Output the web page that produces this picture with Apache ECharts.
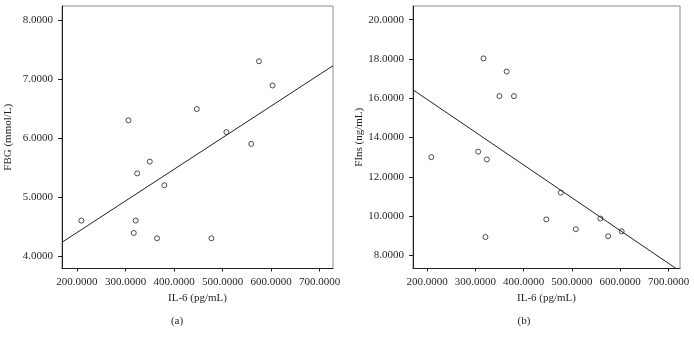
<!DOCTYPE html>
<html>
<head>
<meta charset="utf-8">
<script src="https://cdn.jsdelivr.net/npm/echarts@6/dist/echarts.min.js"></script>
<style>
  html, body { margin: 0; padding: 0; background: #fff; }
  #chart { width: 694px; height: 341px; }
</style>
</head>
<body>
<div id="chart"></div>
<script>
// IL-6 values (same patients in both panels)
const il6 = [209, 306, 317, 321, 324, 350, 365, 380, 447, 477, 508, 559, 575, 603]
// panel (a) FBG
const fbg = [4.60, 6.30, 4.39, 4.60, 5.40, 5.60, 4.30, 5.20, 6.49, 4.30, 6.10, 5.90, 7.30, 6.89]
// panel (b) FIns
const fins = [13.0, 13.28, 18.03, 8.93, 12.88, 16.11, 17.36, 16.11, 9.83, 11.19, 9.33, 9.87, 8.97, 9.22]

// fitted lines, end points
const fitA = [[169.1, 4.232], [727.6, 7.225]]
const fitB = [[171, 16.43], [715.5, 7.33]]

const xTicks = [200, 300, 400, 500, 600, 700]
const yTicksA = [4, 5, 6, 7, 8]
const yTicksB = [8, 10, 12, 14, 16, 18, 20]

const font = 'Liberation Serif'
const ink = '#231f20'

function xAxisOf(idx, min, max) {
  return {
    type: 'value',
    gridIndex: idx,
    min: min,
    max: max,
    name: 'IL-6 (pg/mL)',
    nameLocation: 'middle',
    nameGap: 23,
    nameTextStyle: { fontFamily: font, fontSize: 11, color: ink },
    axisLine: { show: true, lineStyle: { color: ink, width: 1 } },
    axisTick: { show: true, length: 3, customValues: xTicks, lineStyle: { color: ink } },
    axisLabel: {
      customValues: xTicks,
      margin: 8,
      fontFamily: font,
      fontSize: 11,
      color: ink,
      formatter: (v) => v.toFixed(4),
    },
    splitLine: { show: false },
  }
}

function yAxisOf(idx, min, max, ticks, name) {
  return {
    type: 'value',
    gridIndex: idx,
    min: min,
    max: max,
    name: name,
    nameLocation: 'middle',
    nameGap: 48,
    nameTextStyle: { fontFamily: font, fontSize: 11, color: ink },
    axisLine: { show: true, lineStyle: { color: ink, width: 1 } },
    axisTick: { show: true, length: 4, customValues: ticks, lineStyle: { color: ink } },
    axisLabel: {
      customValues: ticks,
      margin: 9,
      fontFamily: font,
      fontSize: 11,
      color: ink,
      formatter: (v) => v.toFixed(4),
    },
    splitLine: { show: false },
  }
}

function pairs(xs, ys) {
  return xs.map((x, i) => [x, ys[i]])
}

const dotStyle = { color: '#fff', borderColor: ink, borderWidth: 1 }

const chart = echarts.init(document.getElementById('chart'))
const option = {
  animation: false,
  backgroundColor: '#fff',
  title: [
    { text: '(a)', left: 172, top: 311, textAlign: 'center', textStyle: { fontFamily: font, fontSize: 11, fontWeight: 'normal', color: ink } },
    { text: '(b)', left: 519, top: 311, textAlign: 'center', textStyle: { fontFamily: font, fontSize: 11, fontWeight: 'normal', color: ink } },
  ],
  grid: [
    { left: 62, right: 361, top: 6, bottom: 72.5, show: true, borderColor: '#8c8c8c', borderWidth: 1 },
    { left: 413, right: 14, top: 6, bottom: 72.5, show: true, borderColor: '#8c8c8c', borderWidth: 1 },
  ],
  xAxis: [xAxisOf(0, 169.1, 727.6), xAxisOf(1, 171, 723.8)],
  yAxis: [
    yAxisOf(0, 3.788, 8.237, yTicksA, 'FBG (mmol/L)'),
    yAxisOf(1, 7.327, 20.7, yTicksB, 'FIns (ng/mL)'),
  ],
  series: [
    {
      type: 'line',
      xAxisIndex: 0,
      yAxisIndex: 0,
      data: fitA,
      showSymbol: false,
      lineStyle: { color: ink, width: 1 },
    },
    {
      type: 'scatter',
      xAxisIndex: 0,
      yAxisIndex: 0,
      data: pairs(il6, fbg),
      symbol: 'circle',
      symbolSize: 5,
      itemStyle: dotStyle,
    },
    {
      type: 'line',
      xAxisIndex: 1,
      yAxisIndex: 1,
      data: fitB,
      showSymbol: false,
      lineStyle: { color: ink, width: 1 },
    },
    {
      type: 'scatter',
      xAxisIndex: 1,
      yAxisIndex: 1,
      data: pairs(il6, fins),
      symbol: 'circle',
      symbolSize: 5,
      itemStyle: dotStyle,
    },
  ],
}
chart.setOption(option)
</script>
</body>
</html>
